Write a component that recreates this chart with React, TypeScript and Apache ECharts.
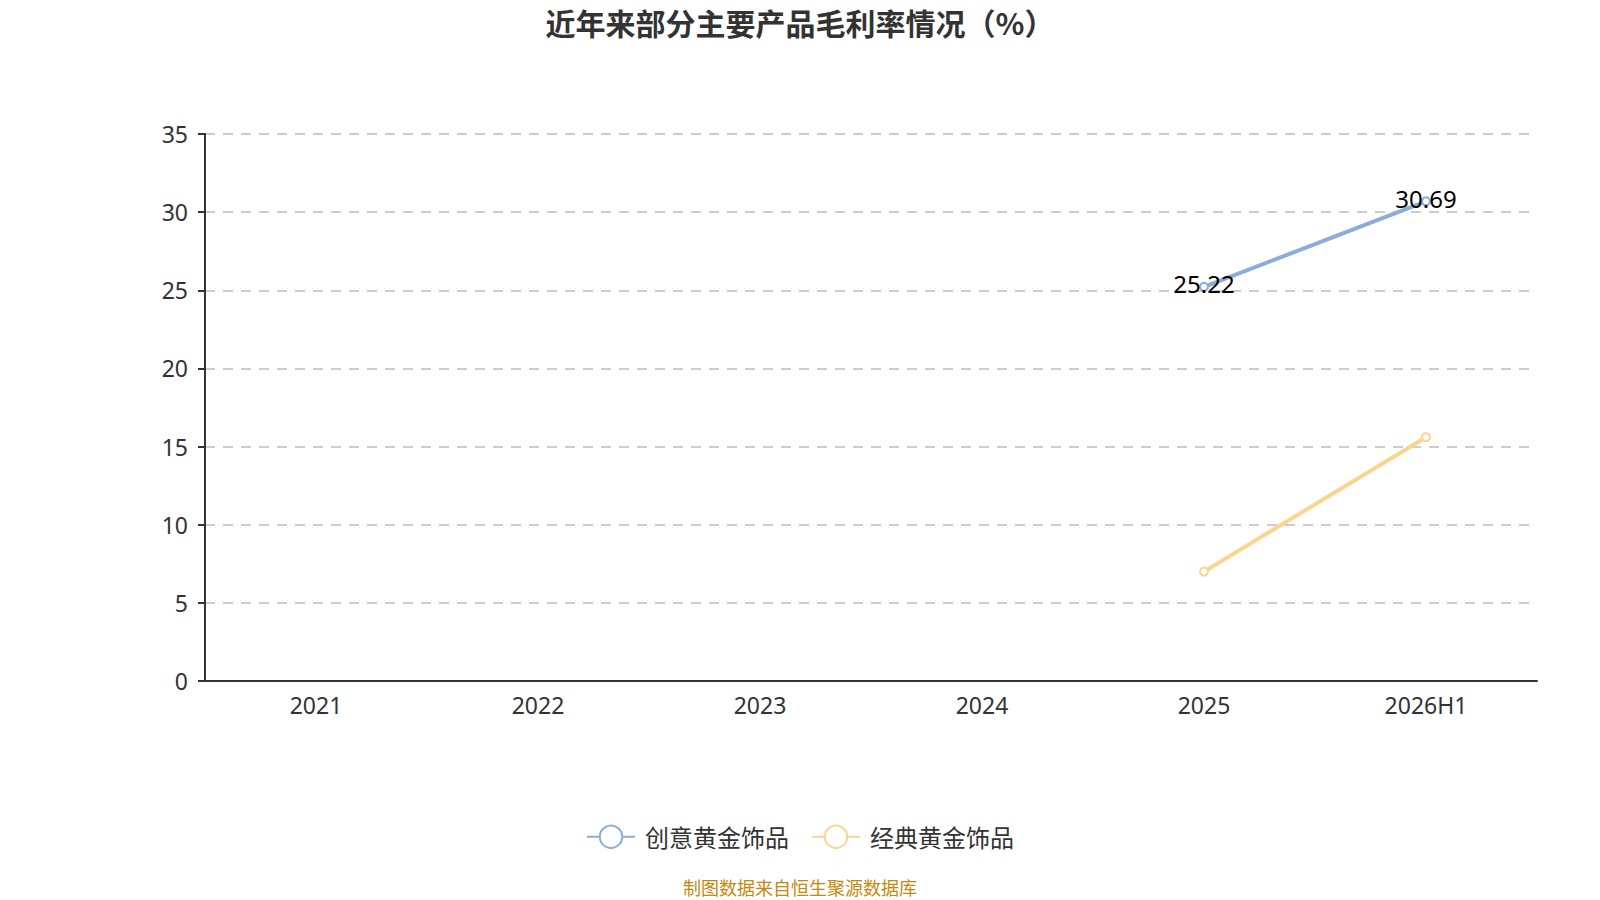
import React, { useEffect, useRef } from "react";
import * as echarts from "echarts";

const categories = ["2021", "2022", "2023", "2024", "2025", "2026H1"];
const creativeGold = [null, null, null, null, 25.22, 30.69];
const classicGold = [null, null, null, null, 7.0, 15.6];
const seriesNames = ["创意黄金饰品", "经典黄金饰品"];
const titleText = "近年来部分主要产品毛利率情况（%）";
const sourceText = "制图数据来自恒生聚源数据库";

const FONT = "'Noto Sans', 'Noto Sans CJK SC', sans-serif";
const CJK = "'Noto Sans CJK SC', sans-serif";

export default function App() {
  const ref = useRef<HTMLDivElement>(null);
  useEffect(() => {
    if (!ref.current) return;
    const chart = echarts.init(ref.current, undefined, { renderer: "svg" });
    chart.setOption({
      animation: false,
      textStyle: { fontFamily: FONT },
      title: {
        text: titleText,
        left: "center",
        top: 2,
        textStyle: { fontSize: 30, fontWeight: "bold", color: "#333", fontFamily: CJK },
      },
      grid: { left: 205, right: 63, top: 134, bottom: 219 },
      legend: {
        bottom: 46,
        left: "center",
        itemWidth: 48,
        itemHeight: 28,
        itemGap: 22,
        data: seriesNames,
        textStyle: { fontSize: 24, color: "#333", fontFamily: CJK, padding: [0, 0, 0, 5] },
      },
      graphic: [
        {
          type: "text",
          left: "center",
          bottom: 4,
          style: {
            text: sourceText,
            fill: "#c8860d",
            fontSize: 18,
            fontFamily: CJK,
          },
        },
      ],
      xAxis: {
        type: "category",
        data: categories,
        boundaryGap: true,
        axisLine: { lineStyle: { color: "#333", width: 2 } },
        axisTick: { length: 7, lineStyle: { color: "#333", width: 2 } },
        axisLabel: { fontSize: 23, color: "#333", margin: 12 },
      },
      yAxis: {
        type: "value",
        min: 0,
        max: 35,
        interval: 5,
        axisLine: { show: true, lineStyle: { color: "#333", width: 2 } },
        axisTick: { show: true, length: 7, lineStyle: { color: "#333", width: 2 } },
        axisLabel: { fontSize: 23, color: "#333", margin: 17 },
        splitLine: { lineStyle: { color: "#ccc", type: [10, 8], width: 2 } },
      },
      series: [
        {
          name: seriesNames[0],
          type: "line",
          data: creativeGold,
          symbol: "emptyCircle",
          symbolSize: 8,
          color: "#8caddc",
          lineStyle: { width: 4 },
          label: { show: true, position: "inside", offset: [0, -3], fontSize: 24, color: "#000" },
        },
        {
          name: seriesNames[1],
          type: "line",
          data: classicGold,
          symbol: "emptyCircle",
          symbolSize: 8,
          color: "#fdd48e",
          lineStyle: { width: 4 },
        },
      ],
    });
    return () => chart.dispose();
  }, []);
  return <div ref={ref} style={{ position: "absolute", left: 0, top: 0, width: 1600, height: 900 }} />;
}
